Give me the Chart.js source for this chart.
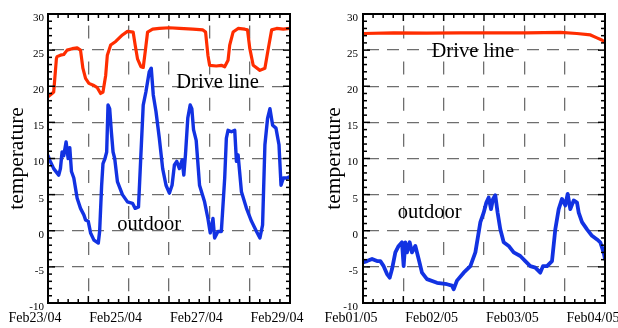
<!DOCTYPE html>
<html><head><meta charset="utf-8">
<script src="https://cdn.jsdelivr.net/npm/chart.js@4/dist/chart.umd.min.js"></script>
<style>
html,body{margin:0;padding:0;background:#fff;}
#wrap{position:relative;width:618px;height:328px;overflow:hidden;background:#fff;}
#c1{position:absolute;left:0;top:0;}
#c2{position:absolute;left:310px;top:0;}
</style></head><body>
<div id="wrap"><canvas id="c1" width="310" height="328"></canvas><canvas id="c2" width="308" height="328"></canvas></div>
<script>
// ---- tick labels ----
const yMin = -10, yMax = 30, yStep = 5;
const leftDateLabels = ['Feb23/04', 'Feb25/04', 'Feb27/04', 'Feb29/04'];   // every 2 days (day 0,2,4,6)
const rightDateLabels = ['Feb01/05', 'Feb02/05', 'Feb03/05', 'Feb04/05'];  // every day (day 0,1,2,3)
const yTitle = 'temperature';

// ---- left panel (Feb 23 - Feb 29, 2004), x in days since Feb23 ----
const leftDriveX = [0,0.1,0.141,0.208,0.224,0.308,0.391,0.474,0.599,0.723,0.806,0.865,0.931,1.014,1.139,1.222,1.305,1.363,1.43,1.471,1.554,1.679,1.845,1.97,2.111,2.161,2.219,2.303,2.361,2.411,2.469,2.594,2.76,3.009,3.258,3.591,3.84,3.907,3.965,4.007,4.173,4.298,4.381,4.464,4.505,4.589,4.713,4.879,4.946,5.004,5.087,5.254,5.378,5.461,5.545,5.669,5.835,6.0];
const leftDriveY = [18.55,19.0,19.2,23.8,24.1,24.3,24.4,25.0,25.2,25.3,25.0,22.5,21.1,20.4,20.1,19.8,19.0,19.2,21.5,24.3,25.7,26.2,27.1,27.6,27.5,25.7,23.8,22.7,22.6,24.8,27.5,27.9,28.0,28.1,28.0,27.9,27.8,27.5,24.3,22.9,22.8,22.9,22.7,23.6,25.7,27.5,28.0,27.9,27.8,25.2,22.9,22.2,22.5,25.2,27.8,28.0,27.9,28.0];
const leftOutdoorX = [0,0.058,0.141,0.266,0.308,0.349,0.391,0.449,0.499,0.54,0.582,0.64,0.723,0.806,0.889,0.931,0.998,1.056,1.139,1.247,1.28,1.33,1.363,1.413,1.455,1.488,1.529,1.571,1.613,1.654,1.721,1.845,1.97,2.095,2.161,2.244,2.303,2.361,2.427,2.51,2.56,2.61,2.677,2.76,2.843,2.926,3.009,3.076,3.134,3.192,3.258,3.325,3.367,3.408,3.466,3.525,3.566,3.608,3.674,3.757,3.882,3.965,4.023,4.09,4.131,4.214,4.298,4.381,4.422,4.464,4.547,4.63,4.672,4.713,4.796,4.921,5.046,5.17,5.254,5.32,5.378,5.445,5.503,5.569,5.652,5.727,5.777,5.835,5.918,6.0];
const leftOutdoorY = [10.4,9.6,8.6,7.7,8.6,10.9,10.4,12.3,10.0,11.5,8.2,7.3,4.5,3.1,2.2,1.5,1.3,-0.3,-1.3,-1.7,-0.1,6.3,9.3,10.0,10.9,17.4,16.9,13.7,10.9,10.0,6.8,5.0,4.0,3.8,3.1,3.3,10.5,17.4,19.2,22.0,22.5,18.8,16.5,12.8,8.6,6.3,5.2,6.3,9.1,9.6,8.6,9.8,7.7,10.5,15.6,17.4,16.9,14.0,12.5,6.3,4.0,1.7,-0.3,1.7,-1.0,-0.1,-0.1,7.3,12.8,13.9,13.7,13.9,9.6,10.5,5.4,3.1,1.3,-0.1,-1.0,0.8,11.9,15.6,16.9,14.6,14.2,11.9,6.3,7.3,7.3,7.5];

// ---- right panel (Feb 01 - Feb 04, 2005), x in days since Feb01 ----
const rightDriveX = [0,0.38,0.79,1.21,1.62,2.03,2.45,2.65,2.82,2.9,2.96,3.0];
const rightDriveY = [27.3,27.4,27.35,27.4,27.4,27.4,27.45,27.3,27.1,26.7,26.4,26.1];
const rightOutdoorX = [0,0.05,0.112,0.174,0.215,0.256,0.298,0.331,0.36,0.401,0.442,0.483,0.504,0.525,0.545,0.579,0.607,0.649,0.69,0.731,0.793,0.917,1.041,1.103,1.124,1.165,1.248,1.331,1.393,1.455,1.496,1.529,1.558,1.587,1.612,1.64,1.669,1.702,1.744,1.806,1.868,1.95,2.012,2.074,2.136,2.198,2.231,2.281,2.343,2.384,2.426,2.467,2.508,2.537,2.57,2.612,2.653,2.674,2.715,2.777,2.839,2.901,2.942,2.983,3.0];
const rightOutdoorY = [-4.4,-4.2,-3.9,-4.2,-4.2,-4.9,-6.0,-6.5,-5.3,-3.0,-2.1,-1.6,-4.9,-1.6,-3.0,-1.6,-3.0,-2.1,-3.9,-5.8,-6.7,-7.2,-7.4,-7.6,-8.1,-6.9,-5.8,-4.9,-3.0,1.2,2.5,3.9,4.6,3.0,4.4,4.9,2.5,0.2,-1.6,-2.1,-3.0,-3.5,-4.2,-4.9,-5.1,-5.8,-4.9,-4.9,-4.2,0.2,3.0,4.4,3.5,5.1,3.0,4.2,3.9,2.5,1.2,0.2,-0.7,-1.2,-1.6,-3.0,-3.9];

// text annotations (anchored in data units)
const leftNotes = [{text:'Drive line', x:3.18, y:19.75}, {text:'outdoor', x:1.72, y:0.05}];
const rightNotes = [{text:'Drive line', x:0.85, y:24.05}, {text:'outdoor', x:0.43, y:1.75}];

const RED = '#ff2d00', BLUE = '#1232e2';
const SERIF = '"Liberation Serif", "Times New Roman", serif';

function pts(xs, ys){ return xs.map((v,i)=>({x:v, y:ys[i]})); }

const framePlugin = {
  id: 'frame',
  afterDatasetsDraw(chart, args, opts){
    const {ctx, chartArea:a, scales:{x, y}} = chart;
    ctx.save();
    ctx.strokeStyle = '#000';
    ctx.lineWidth = 1.5;
    const line = (x1,y1,x2,y2)=>{ctx.beginPath();ctx.moveTo(x1,y1);ctx.lineTo(x2,y2);ctx.stroke();};
    for (let v = yMin; v <= yMax; v++) {
      const py = y.getPixelForValue(v);
      const len = (v % 5 === 0) ? 7 : 4;
      line(a.left, py, a.left + len, py);
      line(a.right, py, a.right - len, py);
    }
    const n = Math.round((x.max - x.min) / opts.minor);
    const per = Math.round(opts.major / opts.minor);
    for (let i = 0; i <= n; i++) {
      const v = x.min + i * opts.minor;
      const px = x.getPixelForValue(v);
      const len = (i % per === 0) ? 7 : 4;
      line(px, a.top, px, a.top + len);
      line(px, a.bottom, px, a.bottom - len);
    }
    ctx.lineWidth = 2;
    ctx.strokeRect(a.left, a.top, a.right - a.left, a.bottom - a.top);
    ctx.fillStyle = '#000';
    ctx.font = '20.5px ' + SERIF;
    ctx.textAlign = 'left';
    ctx.textBaseline = 'alphabetic';
    opts.notes.forEach(nt => ctx.fillText(nt.text, x.getPixelForValue(nt.x), y.getPixelForValue(nt.y)));
    ctx.restore();
  }
};

function makeChart(canvasId, cfg){
  return new Chart(document.getElementById(canvasId), {
    type: 'line',
    data: {
      datasets: [
        {label:'Drive line', data: pts(cfg.driveX, cfg.driveY), borderColor: RED, borderWidth: 3.2, pointRadius: 0, tension: 0, borderJoinStyle:'round', borderCapStyle:'round'},
        {label:'outdoor', data: pts(cfg.outX, cfg.outY), borderColor: BLUE, borderWidth: cfg.blueWidth, pointRadius: 0, tension: 0, borderJoinStyle:'round', borderCapStyle:'round'}
      ]
    },
    options: {
      responsive: false,
      animation: false,
      devicePixelRatio: 1,
      events: [],
      layout: {padding: {top: 14, right: cfg.padRight, left: 0, bottom: 0}},
      plugins: {legend: {display: false}, tooltip: {enabled: false}, frame: {minor: cfg.minor, major: cfg.major, notes: cfg.notes}},
      scales: {
        x: {
          type: 'linear', min: 0, max: cfg.xMax,
          afterFit(s){ s.height = 25; s.paddingLeft = 0; s.paddingRight = 0; },
          grid: {color: '#6e6e6e', lineWidth: 1.3, drawTicks: false},
          border: {display: false, dash: [13, 23.1], dashOffset: 24.6},
          ticks: {
            stepSize: cfg.major, autoSkip: false, maxRotation: 0, padding: 7, labelOffset: cfg.labelOffset,
            color: '#000', font: {family: SERIF, size: 14},
            callback: cfg.xLabel
          }
        },
        y: {
          type: 'linear', min: yMin, max: yMax,
          afterFit(s){ s.width = cfg.yWidth; s.paddingTop = 0; s.paddingBottom = 0; },
          grid: {color: '#6e6e6e', lineWidth: 1.3, drawTicks: false},
          border: {display: false, dash: [12, 8], dashOffset: 16},
          title: {display: true, text: yTitle, color: '#000', font: {family: SERIF, size: 21.5}, padding: {top: cfg.titlePad, bottom: 0}},
          ticks: {stepSize: yStep, padding: cfg.yPad, labelOffset: 4, color: '#000', font: {family: SERIF, size: 11}}
        }
      }
    },
    plugins: [framePlugin]
  });
}

makeChart('c1', {
  driveX: leftDriveX, driveY: leftDriveY, outX: leftOutdoorX, outY: leftOutdoorY,
  xMax: 6, major: 1, minor: 0.25, padRight: 20, yWidth: 48, yPad: 4, titlePad: 4, labelOffset: -13, blueWidth: 3.4,
  notes: leftNotes,
  xLabel: v => (Math.abs(v % 2) < 1e-9 ? leftDateLabels[Math.round(v / 2)] : '')
});
makeChart('c2', {
  driveX: rightDriveX, driveY: rightDriveY, outX: rightOutdoorX, outY: rightOutdoorY,
  xMax: 3, major: 0.5, minor: 0.125, padRight: 13, yWidth: 53, yPad: 5, titlePad: 11.4, labelOffset: -12, blueWidth: 3.8,
  notes: rightNotes,
  xLabel: v => (Math.abs(v - Math.round(v)) < 1e-9 ? rightDateLabels[Math.round(v)] : '')
});
</script>
</body></html>
